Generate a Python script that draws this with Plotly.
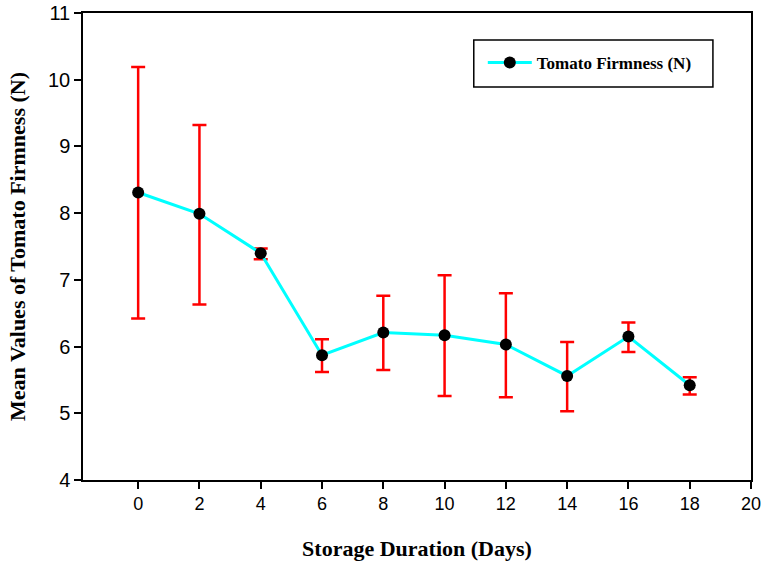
import plotly.graph_objects as go

days = [0, 2, 4, 6, 8, 10, 12, 14, 16, 18]
firmness = [8.31, 7.99, 7.40, 5.87, 6.21, 6.17, 6.03, 5.56, 6.15, 5.42]
err_upper = [10.19, 9.32, 7.47, 6.11, 6.76, 7.07, 6.80, 6.07, 6.36, 5.54]
err_lower = [6.42, 6.63, 7.31, 5.62, 5.65, 5.26, 5.24, 5.03, 5.92, 5.28]
x_ticks = [0, 2, 4, 6, 8, 10, 12, 14, 16, 18, 20]
y_ticks = [4, 5, 6, 7, 8, 9, 10, 11]

plus = [u - m for u, m in zip(err_upper, firmness)]
minus = [m - l for m, l in zip(firmness, err_lower)]

fig = go.Figure()
fig.add_trace(go.Scatter(
    x=days, y=firmness, mode="lines+markers", name="<b>Tomato Firmness (N)</b>",
    line=dict(color="#00FFFF", width=3),
    marker=dict(color="black", size=12),
    error_y=dict(type="data", symmetric=False, array=plus, arrayminus=minus,
                 color="#FF0000", thickness=2.5, width=7),
))

def axis_common(size):
    return dict(
        showline=True, linecolor="black", linewidth=1.5, mirror=True,
        ticks="outside", ticklen=7, tickcolor="black", tickwidth=1.5,
        showgrid=False, zeroline=False, automargin=False,
        tickfont=dict(family="Liberation Sans, Arial", size=size, color="black"),
    )

title_font = dict(family="Liberation Serif, Times New Roman", size=22, color="black")

fig.update_layout(
    width=762, height=564,
    margin=dict(l=83, r=11, t=13, b=84),
    plot_bgcolor="white", paper_bgcolor="white",
    xaxis=dict(range=[-1.8, 20], tickvals=x_ticks,
               title=dict(text="<b>Storage Duration (Days)</b>", standoff=27, font=title_font),
               **axis_common(18)),
    yaxis=dict(range=[4, 11], tickvals=y_ticks,
               title=dict(text="<b>Mean Values of Tomato Firmness (N)</b>", standoff=16, font=title_font),
               **axis_common(20)),
    legend=dict(x=0.5985, y=0.893, xanchor="left", yanchor="middle",
                borderwidth=0, bgcolor="rgba(0,0,0,0)", itemwidth=44,
                font=dict(family="Liberation Serif, Times New Roman", size=17, color="black")),
    showlegend=True,
    shapes=[dict(type="rect", xref="paper", yref="paper",
                 x0=0.585, x1=0.943, y0=0.8415, y1=0.942,
                 line=dict(color="black", width=1.5), fillcolor="white", layer="below")],
)

fig.write_html(
    "out.html",
    config={"displayModeBar": False},
    post_script="document.body.style.margin='0px';document.documentElement.style.overflow='hidden';document.body.style.overflow='hidden';",
)
